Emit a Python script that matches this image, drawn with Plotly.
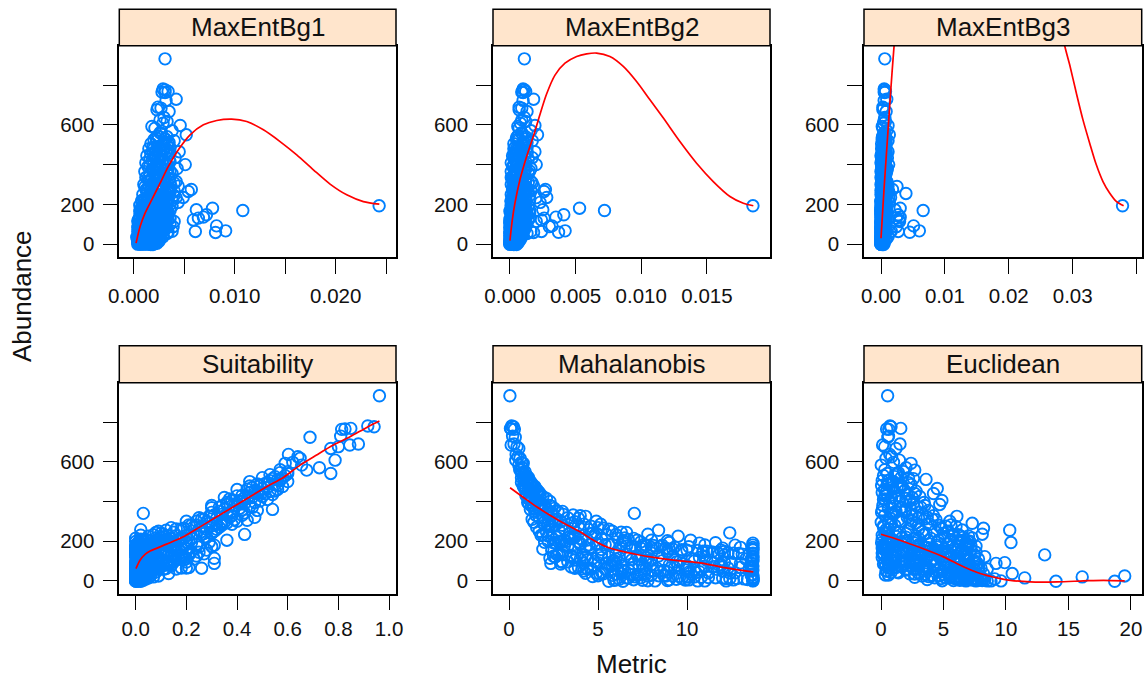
import plotly.graph_objects as go

W, H = 1144, 679

abundance = [
932,780,776,768,765,763,729,723,689,684,
676,667,637,625,617,608,597,592,583,570,
558,550,541,530,525,520,511,505,500,495,
490,485,480,475,470,465,460,455,450,445,
440,435,430,425,420,415,410,405,400,395,
390,385,380,375,370,365,360,355,350,345,
340,335,330,325,320,315,310,305,300,295,
290,285,280,275,270,265,260,255,250,245,
242,240,235,230,225,220,215,210,205,200,
193,181,173,169,148,136,131,122,114,92,
88,67,65,64,60,59,37,25,20,15,
-2,-2,0,0,3,5,8,10,12,14,
195,190,185,180,175,170,165,160,155,150,
145,140,135,130,125,120,115,110,105,100,
198,183,168,153,143,128,118,108,98,90,
85,80,75,70,65,60,55,50,45,40,
35,30,25,22,18,15,12,8,5,2,
300,280,262,248,232,218,208,192,178,162,
198,187,176,165,154,143,132,121,110,103,
194,183,172,161,150,139,128,117,106,101,
190,179,168,157,146,135,124,113,102,199,
186,175,164,153,142,131,120,109,104,196,
182,171,160,149,138,127,116,105,192,181,
98,92,86,80,74,68,62,56,50,44,
96,90,84,78,72,66,60,54,48,42,
94,88,82,76,70,64,58,52,46,41,
97,91,85,79,73,67,61,55,49,43,
38,34,30,26,22,18,14,10,6,2,
36,32,28,24,20,16,12,8,4,0,
39,33,27,21,17,11,7,3,1,5,
100,120,140,160,180,70,50,30,90,110,
298,286,274,262,250,238,226,214,204,292,
278,268,256,244,232,222,212,202,288,258,
545,515,488,462,438,412,392,368,342,318,
535,505,478,452,428,402,378,358,332,308,
470,445,420,395,370,350,328,312,298,282,
240,228,216,206,196,184,172,158,144,130,
125,112,95,82,69,58,47,36,26,19,
560,540,520,500,480,460,440,420,400,380,
360,340,320,300,280,260,240,234,220,205,
195,180,170,155,140,125,110,95,80,65,
215,205,190,175,165,150,135,120,105,90,
230,218,204,192,176,162,148,134,118,102,
88,76,64,52,40,28,16,6,0,0,
]

maxent1 = [
.0031,.0029,.0031,.0034,.0028,.0031,.0042,.0032,.0024,.0027,
.0023,.0035,.0030,.0026,.0033,.0029,.0046,.0018,.0021,.0038,
.0027,.0052,.0024,.0031,.0020,.0040,.0035,.0017,.0028,.0033,
.0025,.0036,.0015,.0030,.0022,.0045,.0019,.0034,.0026,.0013,
.0024,.0041,.0016,.0029,.0020,.0036,.0012,.0031,.0051,.0022,
.0014,.0027,.0043,.0018,.0033,.0011,.0024,.0038,.0016,.0029,
.0021,.0012,.0035,.0026,.0015,.0042,.0019,.0031,.0010,.0023,
.0037,.0017,.0027,.0057,.0013,.0054,.0021,.0032,.0009,.0040,
.0025,.0014,.0049,.0019,.0033,.0008,.0028,.0044,.0012,.0036,
.0243,.0078,.0062,.0108,.0072,.0069,.0064,.0059,.0040,.0082,
.0039,.0091,.0038,.0061,.0034,.0081,.0029,.0026,.0021,.0025,
.0017,.0019,.0007,.0011,.0015,.0023,.0009,.0012,.0004,.0020,
.0010,.0022,.0015,.0030,.0007,.0018,.0026,.0012,.0034,.0020,
.0008,.0024,.0013,.0031,.0005,.0017,.0028,.0011,.0021,.0036,
.0016,.0011,.0027,.0009,.0033,.0020,.0014,.0006,.0030,.0018,
.0004,.0013,.0025,.0008,.0017,.0028,.0006,.0010,.0021,.0015,
.0003,.0012,.0018,.0006,.0022,.0009,.0014,.0004,.0019,.0007,
.0026,.0022,.0035,.0016,.0024,.0030,.0018,.0038,.0023,.0031,
.0013,.0025,.0009,.0019,.0029,.0006,.0016,.0023,.0010,.0027,
.0020,.0012,.0033,.0007,.0017,.0026,.0011,.0031,.0005,.0018,
.0008,.0021,.0014,.0028,.0010,.0019,.0034,.0007,.0024,.0017,
.0030,.0011,.0022,.0015,.0027,.0009,.0013,.0032,.0019,.0006,
.0018,.0036,.0008,.0023,.0013,.0029,.0004,.0016,.0026,.0010,
.0012,.0024,.0007,.0018,.0031,.0010,.0022,.0005,.0015,.0027,
.0021,.0009,.0028,.0014,.0006,.0024,.0017,.0033,.0012,.0020,
.0016,.0032,.0005,.0026,.0011,.0019,.0008,.0023,.0029,.0004,
.0025,.0014,.0020,.0008,.0030,.0016,.0026,.0010,.0006,.0021,
.0006,.0016,.0025,.0010,.0020,.0004,.0013,.0018,.0007,.0015,
.0023,.0008,.0014,.0019,.0005,.0012,.0017,.0009,.0021,.0004,
.0011,.0026,.0007,.0016,.0022,.0006,.0013,.0018,.0010,.0005,
.0019,.0009,.0024,.0014,.0030,.0012,.0020,.0008,.0026,.0016,
.0018,.0029,.0012,.0036,.0021,.0015,.0033,.0010,.0026,.0044,
.0024,.0040,.0017,.0028,.0013,.0038,.0022,.0016,.0011,.0031,
.0024,.0030,.0019,.0032,.0021,.0028,.0016,.0036,.0025,.0030,
.0022,.0034,.0027,.0017,.0035,.0023,.0034,.0020,.0014,.0040,
.0029,.0021,.0025,.0033,.0019,.0030,.0023,.0036,.0015,.0034,
.0027,.0034,.0020,.0030,.0024,.0028,.0017,.0032,.0022,.0036,
.0013,.0008,.0015,.0023,.0011,.0018,.0012,.0021,.0010,.0017,
.0026,.0033,.0023,.0030,.0020,.0036,.0028,.0018,.0033,.0024,
.0022,.0030,.0017,.0027,.0036,.0019,.0026,.0042,.0014,.0033,
.0029,.0016,.0024,.0011,.0032,.0020,.0028,.0014,.0024,.0018,
.0008,.0023,.0013,.0019,.0006,.0028,.0012,.0025,.0008,.0020,
.0011,.0029,.0017,.0025,.0007,.0021,.0030,.0015,.0019,.0010,
.0009,.0020,.0004,.0013,.0024,.0008,.0016,.0011,.0006,.0014,
]

maxent2 = [
.0011,.0010,.0011,.0012,.0009,.0010,.0018,.0010,.0007,.0009,
.0007,.0013,.0011,.0009,.0012,.0008,.0019,.0006,.0007,.0016,
.0009,.0021,.0006,.0012,.0005,.0017,.0013,.0003,.0009,.0011,
.0007,.0013,.0003,.0010,.0005,.0019,.0004,.0011,.0007,.0002,
.0006,.0017,.0003,.0009,.0005,.0012,.0001,.0010,.0020,.0005,
.0002,.0008,.0016,.0004,.0011,.0001,.0006,.0014,.0003,.0009,
.0005,.0001,.0012,.0007,.0002,.0016,.0004,.0010,.0001,.0006,
.0012,.0003,.0008,.0027,.0002,.0026,.0005,.0010,.0001,.0015,
.0007,.0002,.0028,.0004,.0010,.0001,.0008,.0023,.0002,.0012,
.0185,.0053,.0025,.0072,.0041,.0035,.0026,.0024,.0020,.0032,
.0030,.0042,.0016,.0024,.0037,.0018,.0009,.0008,.0006,.0007,
.0003,.0005,.0001,.0002,.0004,.0006,.0001,.0003,.0000,.0005,
.0002,.0007,.0004,.0012,.0001,.0005,.0009,.0003,.0015,.0006,
.0001,.0008,.0002,.0011,.0000,.0004,.0010,.0002,.0006,.0013,
.0004,.0002,.0009,.0001,.0013,.0005,.0003,.0000,.0011,.0004,
.0000,.0002,.0007,.0001,.0004,.0009,.0000,.0002,.0006,.0003,
.0000,.0002,.0004,.0001,.0006,.0001,.0003,.0000,.0005,.0001,
.0007,.0005,.0012,.0003,.0006,.0009,.0004,.0014,.0005,.0010,
.0003,.0008,.0001,.0005,.0010,.0001,.0003,.0007,.0002,.0009,
.0005,.0002,.0012,.0001,.0004,.0009,.0002,.0011,.0000,.0004,
.0001,.0006,.0003,.0009,.0002,.0005,.0014,.0001,.0007,.0004,
.0011,.0002,.0006,.0003,.0008,.0001,.0003,.0012,.0005,.0001,
.0004,.0015,.0001,.0007,.0002,.0010,.0000,.0003,.0009,.0002,
.0002,.0007,.0001,.0004,.0011,.0002,.0006,.0000,.0003,.0009,
.0006,.0001,.0009,.0003,.0001,.0008,.0004,.0013,.0002,.0005,
.0003,.0012,.0000,.0008,.0002,.0005,.0001,.0006,.0010,.0000,
.0008,.0003,.0005,.0001,.0011,.0003,.0008,.0002,.0001,.0005,
.0001,.0003,.0007,.0002,.0005,.0000,.0002,.0004,.0001,.0003,
.0006,.0001,.0002,.0004,.0000,.0002,.0004,.0001,.0005,.0000,
.0002,.0008,.0001,.0003,.0006,.0001,.0002,.0004,.0002,.0000,
.0005,.0002,.0008,.0003,.0011,.0002,.0005,.0001,.0008,.0004,
.0004,.0009,.0002,.0014,.0005,.0003,.0012,.0001,.0008,.0018,
.0006,.0016,.0003,.0009,.0002,.0015,.0005,.0003,.0002,.0011,
.0006,.0010,.0004,.0013,.0006,.0009,.0003,.0015,.0008,.0012,
.0005,.0012,.0009,.0003,.0014,.0006,.0012,.0004,.0002,.0017,
.0010,.0005,.0007,.0012,.0004,.0011,.0006,.0014,.0003,.0013,
.0008,.0012,.0005,.0011,.0006,.0010,.0004,.0013,.0006,.0015,
.0003,.0001,.0003,.0007,.0002,.0004,.0002,.0005,.0001,.0004,
.0009,.0012,.0006,.0010,.0005,.0013,.0009,.0004,.0012,.0007,
.0005,.0010,.0003,.0008,.0013,.0004,.0007,.0020,.0002,.0012,
.0009,.0003,.0007,.0002,.0011,.0005,.0009,.0003,.0006,.0004,
.0001,.0006,.0002,.0004,.0000,.0008,.0002,.0007,.0001,.0005,
.0002,.0009,.0004,.0007,.0001,.0005,.0010,.0003,.0005,.0002,
.0001,.0005,.0000,.0002,.0007,.0001,.0003,.0002,.0000,.0002,
]

maxent3 = [
.0006,.0005,.0006,.0007,.0005,.0006,.0009,.0005,.0003,.0004,
.0003,.0008,.0006,.0005,.0007,.0004,.0011,.0002,.0003,.0009,
.0005,.0013,.0003,.0007,.0002,.0011,.0008,.0001,.0005,.0006,
.0003,.0008,.0001,.0006,.0003,.0011,.0002,.0006,.0004,.0000,
.0003,.0010,.0001,.0005,.0002,.0007,.0000,.0006,.0012,.0002,
.0001,.0004,.0010,.0002,.0006,.0000,.0003,.0008,.0001,.0005,
.0002,.0000,.0007,.0004,.0001,.0009,.0002,.0006,.0000,.0003,
.0025,.0001,.0004,.0018,.0000,.0012,.0003,.0039,.0000,.0009,
.0004,.0001,.0015,.0002,.0006,.0000,.0005,.0013,.0001,.0008,
.0378,.0030,.0022,.0066,.0027,.0030,.0024,.0028,.0029,.0051,
.0024,.0060,.0016,.0027,.0045,.0014,.0011,.0008,.0004,.0005,
.0002,.0004,.0000,.0001,.0003,.0005,.0000,.0002,.0000,.0004,
.0001,.0004,.0002,.0007,.0000,.0003,.0006,.0001,.0009,.0003,
.0000,.0005,.0001,.0007,.0000,.0002,.0006,.0001,.0004,.0008,
.0002,.0001,.0005,.0000,.0008,.0003,.0001,.0000,.0006,.0002,
.0000,.0001,.0004,.0000,.0002,.0006,.0000,.0001,.0004,.0002,
.0000,.0001,.0002,.0000,.0004,.0000,.0002,.0000,.0003,.0001,
.0004,.0003,.0007,.0001,.0003,.0005,.0002,.0008,.0003,.0006,
.0001,.0004,.0000,.0003,.0006,.0000,.0002,.0004,.0001,.0005,
.0003,.0001,.0007,.0000,.0002,.0005,.0001,.0006,.0000,.0002,
.0000,.0003,.0001,.0005,.0001,.0003,.0008,.0000,.0004,.0002,
.0006,.0001,.0003,.0002,.0004,.0000,.0001,.0007,.0003,.0000,
.0002,.0009,.0000,.0004,.0001,.0005,.0000,.0002,.0005,.0001,
.0001,.0004,.0000,.0002,.0007,.0001,.0003,.0000,.0002,.0005,
.0003,.0000,.0005,.0001,.0000,.0004,.0002,.0007,.0001,.0003,
.0002,.0007,.0000,.0005,.0001,.0003,.0000,.0003,.0005,.0000,
.0004,.0001,.0003,.0000,.0006,.0002,.0004,.0001,.0000,.0003,
.0000,.0002,.0004,.0001,.0003,.0000,.0001,.0002,.0000,.0002,
.0003,.0000,.0001,.0003,.0000,.0001,.0002,.0000,.0003,.0000,
.0001,.0005,.0000,.0002,.0003,.0000,.0001,.0002,.0001,.0000,
.0003,.0001,.0004,.0002,.0006,.0001,.0003,.0000,.0004,.0002,
.0002,.0005,.0001,.0008,.0003,.0001,.0007,.0000,.0004,.0011,
.0003,.0010,.0001,.0005,.0001,.0008,.0003,.0002,.0001,.0006,
.0003,.0005,.0002,.0008,.0003,.0005,.0001,.0009,.0004,.0007,
.0002,.0007,.0005,.0001,.0008,.0003,.0007,.0002,.0001,.0010,
.0006,.0002,.0004,.0007,.0002,.0006,.0003,.0008,.0001,.0007,
.0005,.0007,.0002,.0006,.0003,.0005,.0002,.0007,.0003,.0008,
.0001,.0000,.0002,.0004,.0001,.0002,.0001,.0003,.0000,.0002,
.0005,.0007,.0003,.0006,.0002,.0008,.0005,.0002,.0007,.0004,
.0003,.0006,.0001,.0005,.0008,.0002,.0004,.0012,.0001,.0006,
.0005,.0002,.0004,.0001,.0006,.0003,.0005,.0002,.0003,.0002,
.0000,.0003,.0001,.0002,.0000,.0005,.0001,.0004,.0000,.0003,
.0001,.0005,.0002,.0004,.0000,.0003,.0006,.0002,.0003,.0001,
.0000,.0003,.0000,.0001,.0004,.0000,.0002,.0001,.0000,.0001,
]

suitability = [
.962,.916,.941,.849,.826,.813,.809,.688,.879,.845,
.80,.77,.603,.64,.649,.787,.62,.59,.655,.725,
.675,.60,.77,.59,.55,.58,.56,.53,.60,.52,
.51,.55,.49,.58,.52,.50,.56,.47,.53,.45,
.48,.54,.42,.50,.46,.44,.52,.38,.41,.47,
.43,.36,.39,.45,.33,.41,.35,.48,.38,.30,
.03,.34,.42,.29,.37,.32,.27,.44,.24,.35,
.29,.38,.22,.26,.33,.19,.28,.12,.31,.15,
.24,.30,.11,.20,.05,.27,.14,.02,.21,.17,
.10,.08,.30,.04,.22,.27,.18,.14,.31,.06,
.31,.21,.20,.26,.16,.11,.13,.09,.07,.05,
.002,.02,.005,.01,.03,.015,.008,.04,.003,.025,
.01,.06,.13,.03,.19,.08,.00,.16,.10,.04,
.02,.12,.06,.00,.15,.03,.09,.23,.01,.07,
.07,.02,.15,.005,.11,.05,.18,.01,.13,.03,
.00,.04,.01,.10,.02,.06,.00,.03,.08,.01,
.00,.02,.00,.05,.01,.03,.00,.02,.01,.00,
.20,.24,.16,.26,.07,.18,.12,.22,.14,.20,
.00,.09,.03,.14,.05,.11,.02,.08,.17,.04,
.04,.12,.00,.07,.16,.01,.10,.06,.03,.13,
.02,.15,.05,.09,.00,.13,.04,.20,.06,.11,
.06,.01,.18,.03,.08,.14,.00,.10,.02,.15,
.16,.03,.09,.01,.12,.07,.04,.19,.10,.00,
.05,.00,.09,.02,.07,.01,.12,.04,.00,.06,
.10,.03,.00,.14,.05,.08,.02,.00,.04,.01,
.01,.07,.11,.03,.00,.06,.09,.02,.05,.00,
.08,.02,.06,.13,.00,.04,.01,.07,.03,.00,
.02,.00,.04,.01,.03,.00,.02,.01,.00,.01,
.05,.01,.00,.03,.02,.00,.04,.01,.00,.00,
.00,.03,.06,.01,.00,.02,.00,.01,.02,.00,
.00,.01,.00,.02,.01,.00,.02,.00,.01,.03,
.28,.32,.23,.18,.09,.27,.13,.22,.17,.36,
.30,.14,.25,.08,.21,.11,.19,.06,.34,.02,
.57,.54,.48,.44,.51,.37,.40,.30,.43,.25,
.53,.57,.45,.55,.40,.49,.34,.42,.31,.39,
.46,.50,.43,.36,.46,.33,.38,.26,.34,.21,
.10,.16,.08,.13,.20,.24,.07,.17,.25,.21,
.19,.17,.15,.12,.09,.07,.05,.04,.03,.02,
.57,.60,.50,.45,.56,.40,.47,.35,.42,.30,
.54,.36,.47,.40,.34,.32,.30,.43,.28,.36,
.29,.31,.25,.28,.21,.24,.16,.20,.14,.18,
.00,.03,.01,.06,.02,.00,.04,.01,.08,.02,
.02,.10,.05,.12,.08,.00,.06,.11,.03,.15,
.04,.00,.03,.01,.00,.01,.00,.02,.00,.01,
]

mahalanobis = [
.05,.15,.25,.08,.12,.30,.20,.35,.28,.12,
.45,.55,.40,.50,.62,.38,.70,.80,.55,.75,
.65,.90,.75,1.0,.80,1.1,.85,.95,1.2,.70,
1.0,1.25,.85,1.45,.95,1.5,1.1,1.6,1.25,1.35,
1.4,1.75,.95,1.9,1.15,2.1,1.3,1.55,2.3,1.05,
1.1,1.95,1.35,2.4,1.6,2.55,1.2,2.2,2.75,1.45,
7.04,3.05,1.5,4.3,1.7,3.9,1.3,2.6,4.9,1.4,
3.5,5.15,2.0,4.6,1.55,5.3,3.1,8.4,1.7,6.3,
12.4,3.4,7.8,1.8,9.5,2.7,6.1,4.1,10.2,2.2,
9.0,11.0,8.5,13.0,9.7,5.2,12.1,6.8,2.3,11.4,
2.35,9.1,6.9,3.7,4.6,10.8,6.3,8.8,7.1,13.7,
5.6,6.4,13.7,8.2,7.5,10.1,9.4,13.7,12.2,6.7,
2.8,13.7,5.6,12.7,3.3,9.3,7.4,1.9,13.7,6.2,
3.0,8.0,11.8,5.0,13.7,2.6,7.7,13.3,4.4,10.4,
6.5,4.0,13.7,2.4,10.9,7.2,3.6,13.7,5.8,12.5,
2.9,7.3,13.7,3.5,10.0,5.4,13.7,4.2,8.9,11.2,
5.1,13.7,7.8,4.7,13.7,6.6,9.7,13.7,6.0,13.7,
2.4,3.0,4.0,2.1,5.5,3.3,6.7,2.5,8.1,3.7,
3.2,4.9,6.6,8.3,10.0,11.7,2.7,4.3,6.0,7.7,
2.0,5.8,7.5,9.2,10.9,12.6,3.5,5.2,6.9,8.6,
4.0,6.3,8.0,9.7,11.4,13.1,2.5,4.7,9.6,2.9,
5.0,6.9,8.8,10.6,12.3,3.0,5.6,7.3,11.1,3.9,
5.4,7.1,9.0,11.1,12.9,3.8,6.2,8.0,2.6,4.5,
2.9,5.0,7.0,9.0,11.0,13.0,4.1,6.1,8.1,10.1,
3.3,5.5,7.5,9.5,11.5,13.5,4.4,6.4,8.5,10.5,
3.0,6.0,8.0,10.0,12.0,4.6,6.7,8.7,10.7,12.7,
4.8,7.8,9.8,11.8,5.7,3.9,7.7,9.9,12.0,5.2,
4.3,6.0,7.2,8.4,9.6,10.8,12.0,13.2,7.0,8.9,
5.3,6.8,8.0,9.2,10.4,11.6,12.8,6.2,9.9,11.0,
4.9,7.4,8.7,10.0,11.2,12.4,13.4,5.9,7.8,12.6,
13.7,13.7,13.7,13.7,13.7,13.6,13.6,13.6,13.6,13.6,
2.9,4.2,2.4,3.6,5.8,4.6,2.2,7.0,3.1,1.9,
3.9,5.0,2.8,6.6,1.9,3.4,5.2,8.9,2.2,4.5,
.7,1.0,1.3,.9,1.65,1.1,1.8,1.4,2.1,3.3,
.9,1.1,.8,1.2,1.0,1.5,1.25,1.9,3.6,2.2,
.85,1.7,1.25,1.5,2.05,3.0,4.0,2.7,3.7,2.6,
4.7,3.7,6.5,4.4,7.4,7.6,10.1,5.2,8.9,4.1,
9.2,10.3,12.1,11.9,9.3,11.7,6.5,7.6,5.0,10.1,
.6,.85,.7,1.0,1.3,1.2,1.55,1.45,1.6,2.3,
1.7,2.4,1.9,2.9,2.3,5.6,4.9,6.0,3.7,7.2,
3.0,8.6,4.3,11.9,6.0,8.4,4.0,9.4,5.8,12.3,
3.5,8.0,10.7,3.1,12.0,8.9,6.6,11.0,3.7,13.0,
4.8,2.4,6.4,11.6,7.7,4.6,12.1,2.8,10.7,5.9,
4.2,6.3,8.3,10.4,12.4,5.8,7.4,9.0,10.6,12.2,
]

euclidean = [
.53,.72,.80,1.58,.45,.62,.60,.55,1.52,.13,
.30,1.2,.70,.85,.40,1.47,1.0,2.4,.02,2.0,
2.7,1.8,.50,.20,1.1,1.6,3.6,.10,.90,2.2,
.60,2.4,.05,1.3,.90,4.5,.30,1.9,1.1,.10,
4.2,.50,1.4,3.1,.85,2.0,.20,4.87,1.5,3.45,
.90,4.7,.15,2.9,1.7,.60,2.4,3.8,1.2,.05,
1.0,3.3,.30,6.07,2.1,.75,4.1,1.4,5.5,.02,
7.3,.80,3.0,5.2,.20,8.2,2.2,10.3,4.3,1.5,
.30,3.6,8.1,5.8,1.2,6.6,2.7,.10,4.6,7.1,
10.4,3.0,.40,1.8,4.4,2.7,13.1,8.3,1.2,9.9,
9.2,5.5,8.0,7.0,8.5,2.9,10.5,19.5,16.1,11.5,
14.0,18.7,9.6,8.8,7.8,6.5,7.4,9.1,5.9,6.9,
.40,2.0,5.3,1.1,7.6,3.5,.15,6.2,2.5,4.8,
6.0,.10,3.9,7.5,1.6,5.0,.50,2.3,6.7,4.0,
1.9,7.0,.25,4.9,3.2,5.7,1.0,6.3,2.6,7.7,
.20,5.1,3.0,6.4,.60,2.1,4.5,7.2,1.3,5.4,
2.7,.35,6.1,3.8,7.0,5.2,4.8,6.8,7.5,8.1,
2.5,1.1,4.9,3.3,6.2,.70,5.6,.05,6.9,2.3,
.8,3.2,1.4,5.9,.3,2.1,6.6,.9,4.1,3.0,
4.5,.6,2.9,6.9,1.7,4.6,.2,3.4,7.0,1.2,
6.3,1.5,3.7,.4,5.3,2.4,6.1,.7,3.6,2.9,
3.9,7.2,.1,4.3,1.8,5.6,2.8,.5,7.4,1.3,
.5,2.2,5.0,3.1,6.4,1.0,4.7,2.0,6.8,.2,
1.6,4.0,.6,6.8,2.4,5.2,.9,7.8,3.4,6.0,
6.1,.3,3.1,5.6,1.1,7.3,3.9,2.0,6.4,.8,
4.4,1.9,7.1,.4,3.6,5.9,2.6,6.7,4.9,1.4,
2.8,5.4,.7,4.2,6.5,1.2,3.3,7.5,.5,5.7,
6.0,3.5,7.7,4.7,6.6,2.7,5.5,8.0,7.2,5.8,
2.3,5.0,6.9,3.3,7.9,4.3,6.2,7.0,8.3,7.6,
3.0,7.4,4.1,5.6,6.7,8.2,3.7,6.3,4.9,7.7,
.9,3.7,6.3,2.3,4.4,1.7,.4,.6,5.0,7.8,
1.7,3.9,6.0,.6,5.4,2.0,7.0,4.0,6.4,2.8,
.2,4.8,6.5,1.2,3.4,5.1,.8,6.1,2.4,.4,
1.4,2.6,.5,1.0,2.1,.3,2.6,1.6,.9,3.0,
1.2,.6,1.7,2.8,.3,2.3,1.1,.1,2.5,4.4,
1.5,.4,2.5,.7,3.2,1.9,4.2,3.5,.6,5.6,
5.0,6.3,7.3,5.6,7.0,6.8,5.7,7.2,7.6,6.7,
6.9,7.0,7.5,7.0,7.8,6.5,7.3,8.2,7.2,6.4,
.3,1.3,2.2,1.0,1.6,.3,2.7,.8,2.0,3.5,
2.0,.8,3.7,1.6,4.6,3.0,.5,5.7,2.0,1.0,
1.6,3.0,4.5,6.5,.2,3.2,5.5,1.8,4.3,.7,
3.0,.9,2.7,.3,4.2,1.8,5.2,3.7,.8,2.3,
.1,1.7,3.8,.8,3.0,.6,2.0,3.2,.1,5.8,
1.1,2.4,3.7,5.0,6.3,4.0,6.0,7.3,6.8,8.5,
]

curve1_x = [.00023,.00063,.00112,.00178,.00261,.00343,.00442,.00558,.0069,.00822,.0097,.01119,.01284,.01449,.01614,.01779,.01944,.02109,.02274,.02432]
curve1_y = [5,89,156,223,307,391,475,550,600,622,629,617,575,516,449,374,302,248,214,201]
curve2_x = [0,.00018,.00038,.00076,.00127,.0019,.00228,.00279,.00343,.00419,.00508,.00584,.0066,.00761,.00863,.00964,.01066,.01168,.01294,.01421,.01548,.01675,.01777,.01853]
curve2_y = [18,122,206,324,441,567,651,755,850,910,944,957,961,944,894,818,726,634,516,407,315,240,206,193]
curve3_x = [0,.0005,.001,.0015,.002,.0025,.005,.01,.015,.02,.025,.02875,.02953,.03057,.03161,.03266,.0337,.03474,.03578,.03682,.03797]
curve3_y = [30,290,525,760,978,1150,1700,2300,2500,2300,1600,998,902,760,625,508,399,315,257,215,193]
curve4_x = [.001,.017,.037,.057,.122,.182,.254,.32,.386,.451,.517,.583,.649,.714,.78,.846,.912,.962]
curve4_y = [62,104,134,150,185,218,272,323,373,424,474,521,583,634,684,726,773,805]
curve5_x = [.06,.81,1.55,2.30,3.05,3.99,4.74,5.49,6.24,7.17,8.3,9.61,10.73,11.85,12.97,13.72]
curve5_y = [469,420,373,331,292,247,205,171,151,133,116,101,91,71,54,45]
curve6_x = [0,1.52,3.13,5,6.6,7.94,9.28,10.35,11.95,14.1,16.2,17.8,19.5]
curve6_y = [235,205,168,121,71,37,15,3,-5,-5,0,3,0]

titles = ["MaxEntBg1", "MaxEntBg2", "MaxEntBg3", "Suitability", "Mahalanobis", "Euclidean"]
metric_x = [maxent1, maxent2, maxent3, suitability, mahalanobis, euclidean]
curves = [(curve1_x, curve1_y), (curve2_x, curve2_y), (curve3_x, curve3_y),
          (curve4_x, curve4_y), (curve5_x, curve5_y), (curve6_x, curve6_y)]

x_ranges = [(-.00143, .02597), (-.00129, .0198), (-.00266, .0408),
            (-.0647, 1.0274), (-.9, 14.66), (-1.36, 20.86)]
x_ticks = [
    ([0, .005, .01, .015, .02, .025], ["0.000", "", "0.010", "", "0.020", ""]),
    ([0, .005, .01, .015], ["0.000", "0.005", "0.010", "0.015"]),
    ([0, .01, .02, .03, .04], ["0.00", "0.01", "0.02", "0.03", ""]),
    ([0, .2, .4, .6, .8, 1], ["0.0", "0.2", "0.4", "0.6", "0.8", "1.0"]),
    ([0, 5, 10], ["0", "5", "10"]),
    ([0, 5, 10, 15, 20], ["0", "5", "10", "15", "20"]),
]
y_tickvals = [0, 200, 400, 600, 800]
y_ticktext = ["0", "200", "", "600", ""]
y_range = (-64.5, 998)

col_px = [(119.3, 396), (493, 770), (864, 1141.7)]
row_px = [(9.3, 45.7, 257), (345.7, 382.7, 593.7)]
x_standoff = [5, 1]

BLUE = "#0080FF"
STRIP = "#FFE5CC"
FONT = "Liberation Sans, Arial, sans-serif"

fig = go.Figure()
shapes, annotations = [], []

for i in range(6):
    r, c = i // 3, i % 3
    axn = "" if i == 0 else str(i + 1)
    xa, ya = "xaxis" + axn, "yaxis" + axn
    left, right = col_px[c]
    top, mid, bottom = row_px[r]
    fig.add_trace(go.Scatter(
        x=metric_x[i], y=abundance, mode="markers", xaxis="x" + axn, yaxis="y" + axn,
        marker=dict(symbol="circle-open", size=11.5, color=BLUE, line=dict(width=1.9, color=BLUE)),
        showlegend=False, hoverinfo="skip"))
    fig.add_trace(go.Scatter(
        x=curves[i][0], y=curves[i][1], mode="lines", xaxis="x" + axn, yaxis="y" + axn,
        line=dict(color="#FF0000", width=1.7, shape="spline", smoothing=0.8),
        showlegend=False, hoverinfo="skip"))
    common = dict(showgrid=False, zeroline=False, showline=True, mirror=True, automargin=False,
                  linecolor="black", linewidth=1.5, ticks="outside", ticklen=15,
                  tickwidth=1.4, tickcolor="black",
                  tickfont=dict(family=FONT, size=20.5, color="#111111"))
    fig.update_layout({
        xa: dict(domain=[left / W, right / W], range=list(x_ranges[i]), anchor="y" + axn,
                 tickmode="array", tickvals=x_ticks[i][0], ticktext=x_ticks[i][1],
                 ticklabelstandoff=x_standoff[r], tickangle=0, **common),
        ya: dict(domain=[1 - bottom / H, 1 - mid / H], range=list(y_range), anchor="x" + axn,
                 tickmode="array", tickvals=y_tickvals, ticktext=y_ticktext,
                 ticklabelstandoff=4, **common),
    })
    shapes.append(dict(type="rect", xref="paper", yref="paper", layer="above",
                       x0=left / W, x1=right / W, y0=1 - mid / H, y1=1 - top / H,
                       fillcolor=STRIP, line=dict(color="black", width=1.5)))
    annotations.append(dict(text=titles[i], xref="paper", yref="paper", showarrow=False,
                            x=(left + right) / 2 / W, y=1 - (top + mid) / 2 / H,
                            xanchor="center", yanchor="middle",
                            font=dict(family=FONT, size=26, color="#111111")))

annotations.append(dict(text="Metric", xref="paper", yref="paper", showarrow=False,
                        x=631 / W, y=1 - 664 / H, xanchor="center", yanchor="middle",
                        font=dict(family=FONT, size=26, color="#111111")))
annotations.append(dict(text="Abundance", xref="paper", yref="paper", showarrow=False,
                        x=22 / W, y=1 - 296 / H, xanchor="center", yanchor="middle", textangle=-90,
                        font=dict(family=FONT, size=26, color="#111111")))

fig.update_layout(width=W, height=H, margin=dict(l=0, r=0, t=0, b=0),
                  paper_bgcolor="white", plot_bgcolor="white",
                  shapes=shapes, annotations=annotations, showlegend=False)

fig.write_html("out.html", config={"displayModeBar": False},
               post_script="document.body.style.margin='0';")
